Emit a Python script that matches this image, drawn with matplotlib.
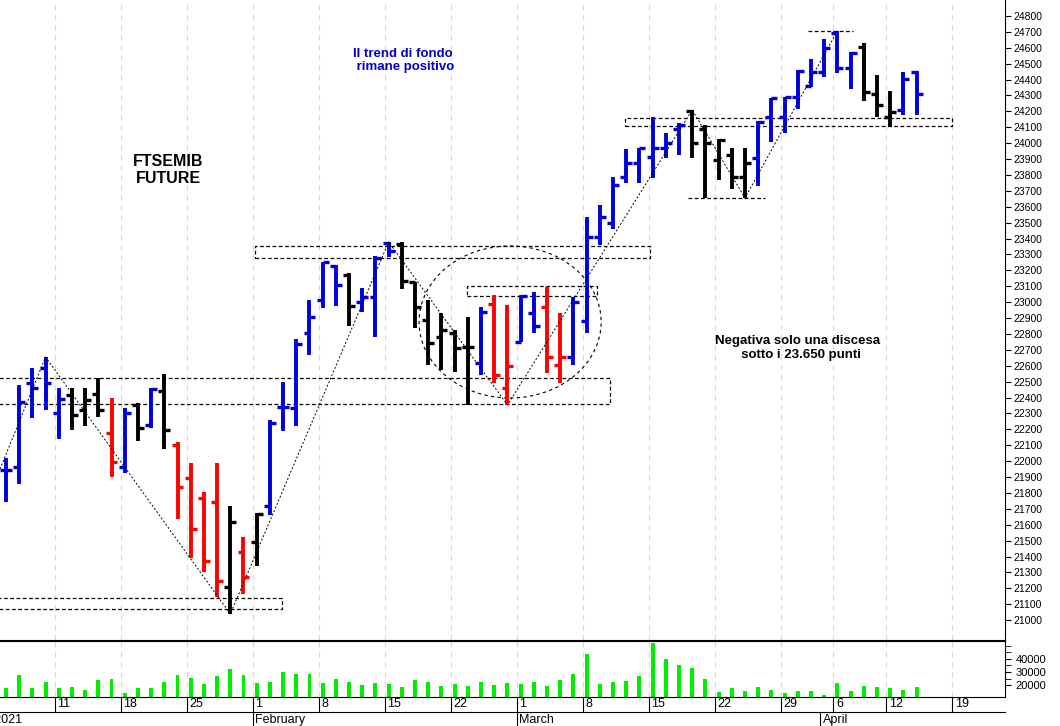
import matplotlib
matplotlib.use('Agg')
import matplotlib.pyplot as plt
import matplotlib.transforms as mtransforms
from matplotlib.patches import Rectangle, Ellipse

plt.rcParams['font.family'] = ['Liberation Sans', 'DejaVu Sans']

# dati OHLC (sessioni dal 7 gennaio al 14 aprile 2021)
opens = [21944, 21963, 22490, 22586, 22303, 22416, 22322, 22422, 22177, 21963,
         22353, 22227, 22441, 22101, 21894, 21768, 21743, 21208, 21429, 21492,
         21718, 22340, 22334, 22806, 23014, 23228, 23171, 23001, 23033, 23370,
         23366, 23127, 22888, 22781, 22806, 22718, 22617, 22989, 22460, 22749,
         22932, 22970, 22605, 22655, 22882, 23410, 23498, 23787, 23875, 23913,
         23970, 24089, 24202, 24089, 23894, 23926, 23787, 23907, 24165, 24165,
         24290, 24359, 24448, 24690, 24473, 24605, 24309, 24165, 24209, 24448]
highs = [22020, 22479, 22586, 22655, 22460, 22460, 22460, 22523, 22397, 22334,
         22366, 22460, 22548, 22120, 21988, 21806, 21988, 21718, 21523, 21674,
         22259, 22498, 22768, 23014, 23253, 23234, 23183, 23089, 23290, 23378,
         23378, 23127, 23014, 22932, 22825, 22907, 22970, 23045, 22983, 23045,
         23064, 23095, 22932, 23033, 23536, 23611, 23787, 23963, 23970, 24165,
         24064, 24127, 24209, 24114, 24026, 23970, 23970, 24139, 24284, 24290,
         24460, 24529, 24655, 24706, 24573, 24630, 24429, 24328, 24448, 24454]
lows = [21743, 21856, 22271, 22322, 22140, 22196, 22220, 22278, 21900, 21925,
        22127, 22208, 22076, 21636, 21391, 21303, 21146, 21039, 21165, 21340,
        21661, 22190, 22221, 22668, 22963, 22976, 22850, 22938, 22781, 23284,
        23083, 22837, 22605, 22573, 22561, 22353, 22542, 22492, 22353, 22749,
        22806, 22554, 22492, 22605, 22806, 23360, 23460, 23750, 23750, 23781,
        23907, 23926, 23907, 23655, 23768, 23712, 23655, 23731, 24007, 24064,
        24215, 24353, 24416, 24441, 24341, 24265, 24165, 24102, 24177, 24177]
closes = [21944, 22372, 22460, 22492, 22390, 22290, 22385, 22322, 21995, 22303,
          22208, 22454, 22196, 21837, 21573, 21372, 21246, 21617, 21271, 21667,
          22240, 22340, 22737, 22907, 23253, 23108, 22976, 23033, 23278, 23320,
          23132, 22970, 22743, 22825, 22712, 22718, 22938, 22542, 22598, 23039,
          22850, 22655, 22655, 23001, 23410, 23536, 23737, 23875, 23970, 23970,
          24001, 24114, 24001, 24001, 24020, 23787, 23875, 24133, 24284, 24290,
          24454, 24448, 24599, 24473, 24567, 24322, 24240, 24196, 24404, 24309]
colors = list('bbbbbkkkrbkbkrrrrkrkbbbbbbkbbbkkkkkkbrrbbrrbbbbbbbbbkkkkkbbbbbbbbkkkbb')
volumes = [17700, 27700, 17700, 22300, 17700, 18500, 16000, 23800, 24600, 13800,
           17700, 17700, 22300, 27700, 25400, 20800, 26900, 32300, 27700, 21500,
           22300, 30000, 28500, 28500, 21500, 25000, 22300, 20000, 21500, 20800,
           18500, 23800, 22300, 19200, 20800, 19200, 22300, 20000, 21500, 20800,
           22300, 19200, 23800, 28500, 44000, 21000, 22000, 23000, 27000, 52000,
           40000, 35000, 33000, 25000, 15000, 18000, 15500, 18500, 16000, 13500,
           15500, 15500, 12000, 21500, 15500, 19500, 18500, 17500, 16500, 18500]

# etichette asse tempi: indice della sessione del lunedi
week_idx = [4, 9, 14, 19, 24, 29, 34, 39, 44, 49, 54, 59, 63, 67, 72]
week_lab = ['11', '18', '25', '1', '8', '15', '22', '1', '8', '15', '22', '29', '6', '12', '19']
month_idx = [19, 39, 62]
month_lab = ['February', 'March', 'April']

cmap = {'b': '#0000dd', 'k': '#000000', 'r': '#ff0000'}
W, H = 1060, 726
fig = plt.figure(figsize=(W / 100, H / 100), dpi=100)
ax = fig.add_axes([0, 1 - 640 / H, 1005 / W, 640 / H])
axv = fig.add_axes([0, (H - 697) / H, 1005 / W, 56 / H], sharex=ax)

xs = range(len(opens))
for i in xs:
    c = cmap[colors[i]]
    ax.vlines(i, lows[i], highs[i], color=c, lw=2.8)
    ax.hlines(opens[i], i - 0.45, i, color=c, lw=2.4)
    ax.hlines(closes[i], i, i + 0.45, color=c, lw=2.4)

ax.set_xlim(-0.45, 75.7)
ax.set_ylim(20875, 24900)
ax.set_yticks(range(21000, 24801, 100))
ax.yaxis.tick_right()
ax.tick_params(axis='y', labelsize=7.5, length=4, pad=2)
ax.tick_params(axis='x', length=0, labelbottom=False)
for s in ['left', 'top']:
    ax.spines[s].set_visible(False)
for m in week_idx:
    ax.axvline(m - 0.3, color='#d8d8e0', lw=0.8, ls=(0, (5, 4)), zorder=0)
    axv.axvline(m - 0.3, color='#d8d8e0', lw=0.8, ls=(0, (5, 4)), zorder=0)

# rettangoli di supporto/resistenza
dash = dict(fill=False, ls=(0, (3, 2)), lw=0.9, ec='black')
for x0, x1, y0, y1 in [(18.9, 48.8, 23280, 23353), (34.9, 44.8, 23039, 23102),
                       (-1, 45.8, 22360, 22523), (-1, 20.9, 21070, 21140),
                       (46.9, 71.7, 24108, 24158)]:
    ax.add_patch(Rectangle((x0, y0), x1 - x0, y1 - y0, **dash))
ax.hlines(23655, 51.7, 57.5, color='black', lw=0.9, ls=(0, (3, 2)))
ax.hlines(24706, 60.8, 64.2, color='black', lw=0.9, ls=(0, (3, 2)))
ax.add_patch(Ellipse((38.2, 22875), 13.8, 956, fill=False, ls=(0, (3, 3)), lw=0.8, ec='black'))

# linee di tendenza
pts = [(-0.45, highs[0] - 70), (3, highs[3]), (17, lows[17]), (29, highs[29]),
       (38, lows[38]), (52, highs[52]), (56, lows[56]), (63, highs[63])]
ax.plot([p[0] for p in pts], [p[1] for p in pts], color='black', lw=0.7, ls=(0, (2, 2)))

ax.text(30.1, 24520, 'Il trend di fondo\n rimane positivo', color='#0000cc', fontsize=9.5,
        fontweight='bold', ha='center', va='center')
ax.text(12.3, 23830, 'FTSEMIB\nFUTURE', fontsize=11.5, fontweight='bold', ha='center', va='center')
ax.text(60, 22710, 'Negativa solo una discesa\n  sotto i 23.650 punti', fontsize=9.5,
        fontweight='bold', ha='center', va='center')

# volumi
axv.bar(list(xs), volumes, width=0.3, color='#00ee00')
axv.set_ylim(10800, 53800)
axv.set_yticks([20000, 30000, 40000])
axv.set_yticks([25000, 35000, 45000, 50000], minor=True)
axv.yaxis.tick_right()
axv.yaxis.set_tick_params(which='both', labelsize=8, length=4)
axv.tick_params(axis='x', length=0, labelbottom=False)
for s in ['left']:
    axv.spines[s].set_visible(False)

# etichette date
tr = mtransforms.blended_transform_factory(axv.transData, fig.transFigure)
for m, lab in zip(week_idx, week_lab):
    axv.plot([m - 0.3, m - 0.3], [(H - 697) / H, (H - 712) / H], transform=tr,
             color='black', lw=0.8, clip_on=False)
    axv.text(m - 0.1, (H - 704) / H, lab, transform=tr, fontsize=9, va='center', ha='left')
fig.add_artist(plt.Line2D([0, 1005 / W], [(H - 712) / H] * 2, color='black', lw=0.8))
for m, lab in zip(month_idx, month_lab):
    axv.plot([m - 0.3, m - 0.3], [(H - 712) / H, 0], transform=tr,
             color='black', lw=0.8, clip_on=False)
    axv.text(m - 0.1, (H - 720) / H, lab, transform=tr, fontsize=9, va='center', ha='left')
fig.text(22 / W, (H - 720) / H, 'January 2021', fontsize=9, va='center', ha='right')

fig.savefig('out.png', dpi=100, facecolor='white')
